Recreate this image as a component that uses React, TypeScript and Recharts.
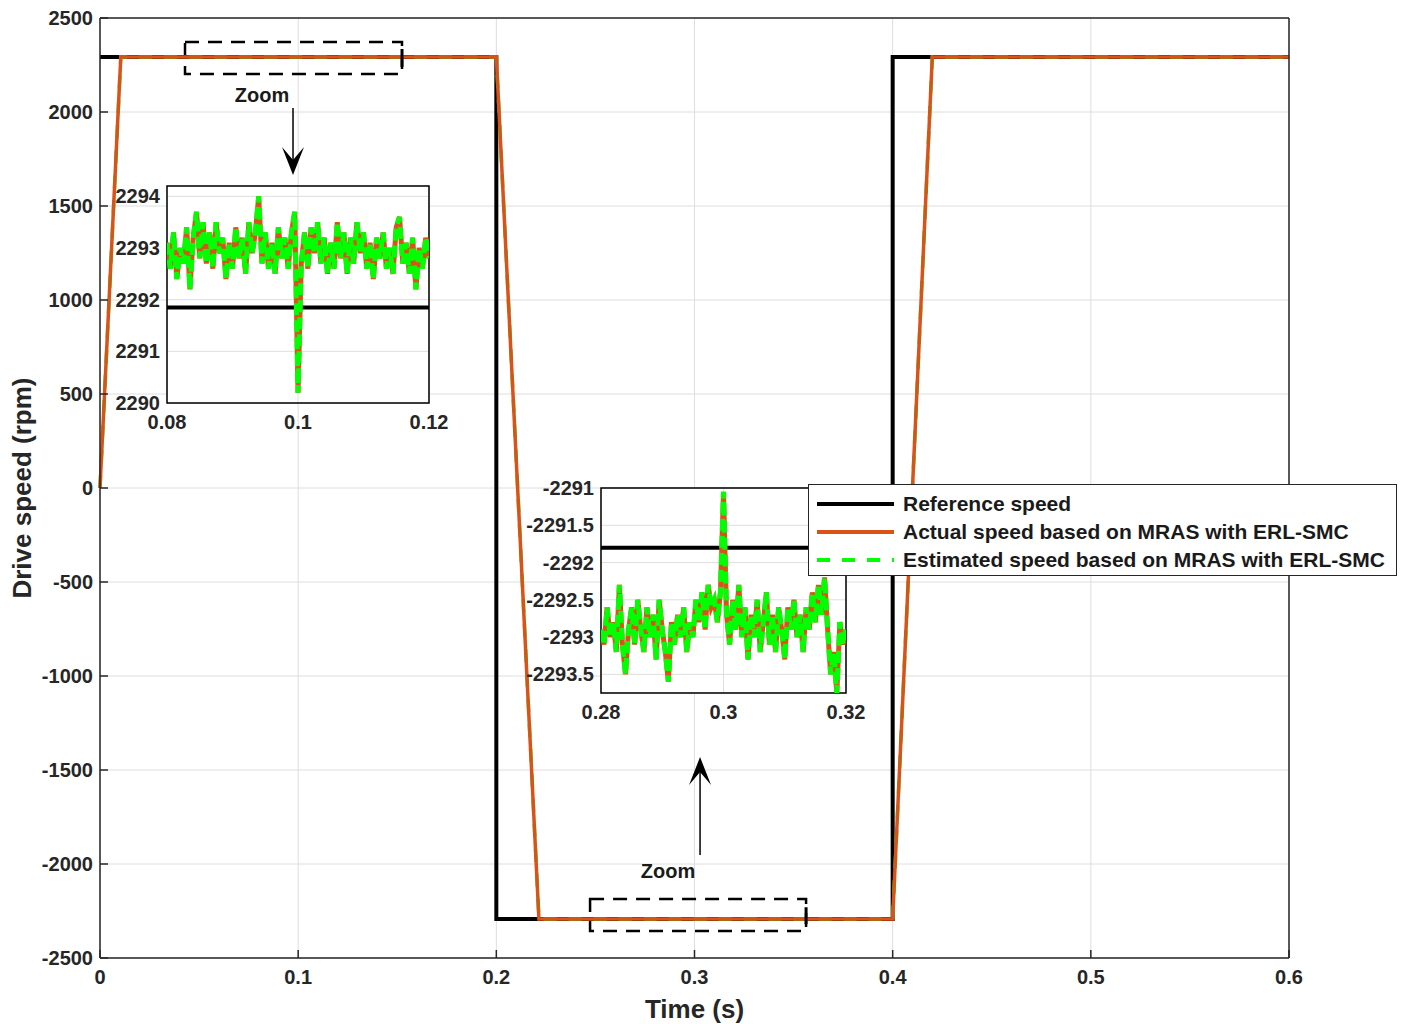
import React from 'react';
import { LineChart, Line, XAxis, YAxis, CartesianGrid, ReferenceArea, ReferenceLine } from 'recharts';

const FONT = 'Arial, "Liberation Sans", Helvetica, sans-serif';
const AXIS = '#262626';
const GRID = '#dedede';

// main plot ticks
const X_TICKS = [0, 0.1, 0.2, 0.3, 0.4, 0.5, 0.6];
const Y_TICKS = [-2500, -2000, -1500, -1000, -500, 0, 500, 1000, 1500, 2000, 2500];

// main plot series (break points of the speed profile)
const refTime = [0, 0.2, 0.2, 0.4, 0.4, 0.6];
const refSpeed = [2292, 2292, -2292, -2292, 2292, 2292];
const actTime = [0, 0.0105, 0.2, 0.2215, 0.4, 0.42, 0.6];
const actSpeed = [0, 2293, 2293, -2293, -2293, 2293, 2293];
const estSpeed = [0, 2293, 2293, -2293, -2293, 2293, 2293];

// zoom inset 1 (0.08 .. 0.12 s)
const zoom1Time = [
  0.08, 0.0805, 0.081, 0.0815, 0.082, 0.0825, 0.083, 0.0835, 0.084, 0.0845,
  0.085, 0.0855, 0.086, 0.0865, 0.087, 0.0875, 0.088, 0.0885, 0.089, 0.0895,
  0.09, 0.0905, 0.091, 0.0915, 0.092, 0.0925, 0.093, 0.0935, 0.094, 0.0945,
  0.095, 0.0955, 0.096, 0.0965, 0.097, 0.0975, 0.098, 0.0985, 0.099, 0.0995,
  0.1, 0.1005, 0.101, 0.1015, 0.102, 0.1025, 0.103, 0.1035, 0.104, 0.1045,
  0.105, 0.1055, 0.106, 0.1065, 0.107, 0.1075, 0.108, 0.1085, 0.109, 0.1095,
  0.11, 0.1105, 0.111, 0.1115, 0.112, 0.1125, 0.113, 0.1135, 0.114, 0.1145,
  0.115, 0.1155, 0.116, 0.1165, 0.117, 0.1175, 0.118, 0.1185, 0.119, 0.1195, 0.12,
];
const zoom1Speed = [
  2293.1, 2292.6, 2293.3, 2292.4, 2293.0, 2292.7, 2293.4, 2292.2, 2293.2, 2293.7,
  2292.8, 2293.5, 2292.7, 2293.3, 2292.6, 2293.5, 2292.9, 2293.2, 2292.4, 2293.1,
  2292.6, 2293.4, 2292.8, 2293.2, 2292.5, 2293.5, 2292.9, 2293.3, 2294.0, 2292.7,
  2293.3, 2292.6, 2293.1, 2292.5, 2293.4, 2292.8, 2293.2, 2292.6, 2293.3, 2293.7,
  2290.2, 2292.7, 2293.3, 2292.6, 2293.4, 2292.9, 2293.5, 2292.7, 2293.2, 2292.5,
  2293.1, 2292.6, 2293.5, 2292.8, 2293.3, 2292.5, 2293.2, 2292.7, 2293.5, 2292.9,
  2293.3, 2292.6, 2293.1, 2292.4, 2293.2, 2292.8, 2293.3, 2292.6, 2293.0, 2292.5,
  2293.4, 2293.6, 2292.7, 2293.1, 2292.5, 2293.2, 2292.2, 2293.0, 2292.6, 2293.2, 2292.8,
];
const zoom1Ref = 2291.85;
const zoom1XTicks = [0.08, 0.1, 0.12];
const zoom1YTicks = [2290, 2291, 2292, 2293, 2294];

// zoom inset 2 (0.28 .. 0.32 s)
const zoom2Time = [
  0.28, 0.2805, 0.281, 0.2815, 0.282, 0.2825, 0.283, 0.2835, 0.284, 0.2845,
  0.285, 0.2855, 0.286, 0.2865, 0.287, 0.2875, 0.288, 0.2885, 0.289, 0.2895,
  0.29, 0.2905, 0.291, 0.2915, 0.292, 0.2925, 0.293, 0.2935, 0.294, 0.2945,
  0.295, 0.2955, 0.296, 0.2965, 0.297, 0.2975, 0.298, 0.2985, 0.299, 0.2995,
  0.3, 0.3005, 0.301, 0.3015, 0.302, 0.3025, 0.303, 0.3035, 0.304, 0.3045,
  0.305, 0.3055, 0.306, 0.3065, 0.307, 0.3075, 0.308, 0.3085, 0.309, 0.3095,
  0.31, 0.3105, 0.311, 0.3115, 0.312, 0.3125, 0.313, 0.3135, 0.314, 0.3145,
  0.315, 0.3155, 0.316, 0.3165, 0.317, 0.3175, 0.318, 0.3185, 0.319, 0.3195, 0.32,
];
const zoom2Speed = [
  -2292.9, -2293.1, -2292.6, -2293.0, -2292.8, -2293.2, -2292.3, -2293.1, -2293.5, -2292.9,
  -2292.6, -2293.1, -2292.5, -2292.9, -2293.2, -2292.6, -2293.0, -2292.7, -2293.3, -2292.5,
  -2292.9, -2293.2, -2293.6, -2292.8, -2293.1, -2292.7, -2293.0, -2292.6, -2293.2, -2292.8,
  -2293.0, -2292.5, -2292.8, -2292.4, -2292.9, -2292.3, -2292.6, -2292.5, -2292.8, -2292.4,
  -2291.05, -2292.7, -2293.1, -2292.5, -2292.9, -2292.3, -2293.0, -2292.6, -2293.3, -2292.7,
  -2293.0, -2292.5, -2293.2, -2292.8, -2292.4, -2293.1, -2292.7, -2293.2, -2292.6, -2292.9,
  -2293.3, -2292.6, -2292.9, -2292.5, -2293.0, -2292.7, -2293.2, -2292.6, -2292.9, -2292.4,
  -2292.8, -2292.3, -2292.7, -2292.2, -2292.9, -2293.5, -2293.2, -2293.75, -2292.8, -2293.1, -2292.9,
];
const zoom2Ref = -2291.8;
const zoom2XTicks = [0.28, 0.3, 0.32];
const zoom2YTicks = [-2293.5, -2293, -2292.5, -2292, -2291.5, -2291];

const SERIES = [
  { key: 'ref', name: 'Reference speed', color: '#000000', dash: undefined as string | undefined },
  { key: 'act', name: 'Actual speed based on MRAS with ERL-SMC', color: '#D95319', dash: undefined as string | undefined },
  { key: 'est', name: 'Estimated speed based on MRAS with ERL-SMC', color: '#00FF00', dash: '13 12' },
];

// zoom boxes + arrows (data coords of the main axes)
const ZOOM_BOX_1 = { x1: 0.0429, x2: 0.1524, y1: 2202, y2: 2372 };
const ZOOM_BOX_2 = { x1: 0.2473, x2: 0.3563, y1: -2356, y2: -2186 };
const ARROW_1 = { x: 0.0974, from: 2021, to: 1665, textDx: -31, textDy: -13 };
const ARROW_2 = { x: 0.3028, from: -1952, to: -1431, textDx: -32, textDy: 16 };

const toPoints = (t: number[], v: number[]) => t.map((x, i) => ({ t: x, v: v[i] }));

const tickStyle = { fill: AXIS, fontSize: 20, fontWeight: 'bold' as const, fontFamily: FONT };

const arrowShape = (textDx: number, textDy: number) => (p: any) => {
  const { x1, y1, x2, y2 } = p;
  const s = y2 > y1 ? 1 : -1;
  return (
    <g>
      <line x1={x1} y1={y1} x2={x2} y2={y2 - s * 14} stroke="#000" strokeWidth={1.5} />
      <polygon
        points={`${x2},${y2} ${x2 - 11},${y2 - s * 28} ${x2},${y2 - s * 15} ${x2 + 11},${y2 - s * 28}`}
        fill="#000"
      />
      <text x={x1 + textDx} y={y1 + textDy} textAnchor="middle" dominantBaseline="central"
        fontFamily={FONT} fontWeight="bold" fontSize={20} fill="#1a1a1a">Zoom</text>
    </g>
  );
};

interface InsetProps {
  plotLeft: number; plotTop: number; plotWidth: number; plotHeight: number; yAxisWidth: number;
  time: number[]; speed: number[]; refLevel: number;
  xTicks: number[]; yTicks: number[]; yDomain: [number, number];
}

const Inset: React.FC<InsetProps> = ({ plotLeft, plotTop, plotWidth, plotHeight, yAxisWidth, time, speed, refLevel, xTicks, yTicks, yDomain }) => {
  const m = { top: 12, right: 30, bottom: 0, left: 4 };
  const xDomain: [number, number] = [xTicks[0], xTicks[xTicks.length - 1]];
  const pts = toPoints(time, speed);
  const refPts = toPoints(xDomain, [refLevel, refLevel]);
  return (
    <div style={{ position: 'absolute', left: plotLeft - yAxisWidth - m.left, top: plotTop - m.top }}>
      <LineChart width={m.left + yAxisWidth + plotWidth + m.right} height={m.top + plotHeight + 32} margin={m}>
        <CartesianGrid stroke={GRID} fill="#ffffff" fillOpacity={1} />
        <XAxis dataKey="t" type="number" domain={xDomain} ticks={xTicks} height={32}
          axisLine={false} tickLine={false} tickSize={0} tickMargin={12} tick={tickStyle} allowDataOverflow />
        <YAxis type="number" domain={yDomain} ticks={yTicks} width={yAxisWidth}
          axisLine={false} tickLine={false} tickSize={0} tickMargin={7} tick={tickStyle} allowDataOverflow />
        <Line data={refPts} dataKey="v" stroke="#000" strokeWidth={4} dot={false} isAnimationActive={false} />
        <Line data={pts} dataKey="v" stroke={SERIES[1].color} strokeWidth={5} dot={false} isAnimationActive={false} />
        <Line data={pts} dataKey="v" stroke={SERIES[2].color} strokeWidth={5} strokeDasharray="12 5" dot={false} isAnimationActive={false} />
        <ReferenceArea x1={xDomain[0]} x2={xDomain[1]} y1={yDomain[0]} y2={yDomain[1]}
          fill="none" fillOpacity={0} stroke="#000" strokeWidth={1.5} />
      </LineChart>
    </div>
  );
};

const LegendBox: React.FC = () => (
  <div style={{
    position: 'absolute', left: 808, top: 484, width: 587, height: 85,
    border: `1.5px solid ${AXIS}`, background: '#fff', fontFamily: FONT,
    fontWeight: 'bold', fontSize: 21, color: '#1a1a1a', paddingTop: 5, boxSizing: 'content-box',
  }}>
    {SERIES.map((s) => (
      <div key={s.key} style={{ display: 'flex', alignItems: 'center', height: 28 }}>
        <svg width={94} height={10} style={{ flex: 'none' }}>
          <line x1={8} x2={85} y1={5} y2={5} stroke={s.color} strokeWidth={4} strokeDasharray={s.dash} />
        </svg>
        <span style={{ whiteSpace: 'nowrap' }}>{s.name}</span>
      </div>
    ))}
  </div>
);

const App: React.FC = () => {
  const refData = toPoints(refTime, refSpeed);
  const actData = toPoints(actTime, actSpeed);
  const estData = toPoints(actTime, estSpeed);

  return (
    <div style={{ position: 'absolute', left: 0, top: 0, width: 1403, height: 1024, background: '#fff' }}>
      <LineChart width={1403} height={1024} margin={{ top: 17, right: 113, bottom: 0, left: 10 }}>
        <CartesianGrid stroke={GRID} />
        <XAxis dataKey="t" type="number" domain={[0, 0.6]} ticks={X_TICKS} height={66}
          axisLine={{ stroke: AXIS, strokeWidth: 1.5 }} tickLine={{ stroke: AXIS, strokeWidth: 1.5 }}
          tickSize={-8} tickMargin={20} tick={tickStyle}
          label={{ value: 'Time (s)', position: 'insideBottom', offset: 6, style: { ...tickStyle, fontSize: 26 } }} />
        <XAxis xAxisId="top" orientation="top" type="number" domain={[0, 0.6]} ticks={X_TICKS} height={1}
          axisLine={{ stroke: AXIS, strokeWidth: 1.5 }} tickLine={{ stroke: AXIS, strokeWidth: 1.5 }}
          tickSize={-8} tick={false} />
        <YAxis type="number" domain={[-2500, 2500]} ticks={Y_TICKS} width={90}
          axisLine={{ stroke: AXIS, strokeWidth: 1.5 }} tickLine={{ stroke: AXIS, strokeWidth: 1.5 }}
          tickSize={-8} tickMargin={15} tick={tickStyle}
          label={{ value: 'Drive speed (rpm)', angle: -90, position: 'insideLeft', offset: 12, style: { ...tickStyle, fontSize: 26, textAnchor: 'middle' } }} />
        <YAxis yAxisId="right" orientation="right" type="number" domain={[-2500, 2500]} ticks={Y_TICKS} width={1}
          axisLine={{ stroke: AXIS, strokeWidth: 1.5 }} tickLine={{ stroke: AXIS, strokeWidth: 1.5 }}
          tickSize={-8} tick={false} />

        <Line data={refData} dataKey="v" name={SERIES[0].name} stroke={SERIES[0].color} strokeWidth={4} dot={false} isAnimationActive={false} />
        <Line data={estData} dataKey="v" name={SERIES[2].name} stroke={SERIES[2].color} strokeWidth={3.5} strokeDasharray={SERIES[2].dash} dot={false} isAnimationActive={false} />
        <Line data={actData} dataKey="v" name={SERIES[1].name} stroke={SERIES[1].color} strokeWidth={3.5} dot={false} isAnimationActive={false} />

        <ReferenceArea {...ZOOM_BOX_1} fill="none" fillOpacity={0} stroke="#000" strokeWidth={2.5} strokeDasharray="14 9" />
        <ReferenceArea {...ZOOM_BOX_2} fill="none" fillOpacity={0} stroke="#000" strokeWidth={2.5} strokeDasharray="14 9" />
        <ReferenceLine segment={[{ x: ZOOM_BOX_1.x2, y: 2335 }, { x: ZOOM_BOX_1.x2, y: 2240 }]} stroke="#000" strokeWidth={3} />
        <ReferenceLine segment={[{ x: ZOOM_BOX_2.x2, y: -2230 }, { x: ZOOM_BOX_2.x2, y: -2320 }]} stroke="#000" strokeWidth={3} />
        <ReferenceLine segment={[{ x: ARROW_1.x, y: ARROW_1.from }, { x: ARROW_1.x, y: ARROW_1.to }]}
          shape={arrowShape(ARROW_1.textDx, ARROW_1.textDy)} />
        <ReferenceLine segment={[{ x: ARROW_2.x, y: ARROW_2.from }, { x: ARROW_2.x, y: ARROW_2.to }]}
          shape={arrowShape(ARROW_2.textDx, ARROW_2.textDy)} />
      </LineChart>

      <Inset plotLeft={167} plotTop={186} plotWidth={262} plotHeight={217} yAxisWidth={60}
        time={zoom1Time} speed={zoom1Speed} refLevel={zoom1Ref}
        xTicks={zoom1XTicks} yTicks={zoom1YTicks} yDomain={[2290, 2294.2]} />
      <Inset plotLeft={601} plotTop={488} plotWidth={245} plotHeight={205} yAxisWidth={80}
        time={zoom2Time} speed={zoom2Speed} refLevel={zoom2Ref}
        xTicks={zoom2XTicks} yTicks={zoom2YTicks} yDomain={[-2293.75, -2291]} />
      <LegendBox />
    </div>
  );
};

export default App;
